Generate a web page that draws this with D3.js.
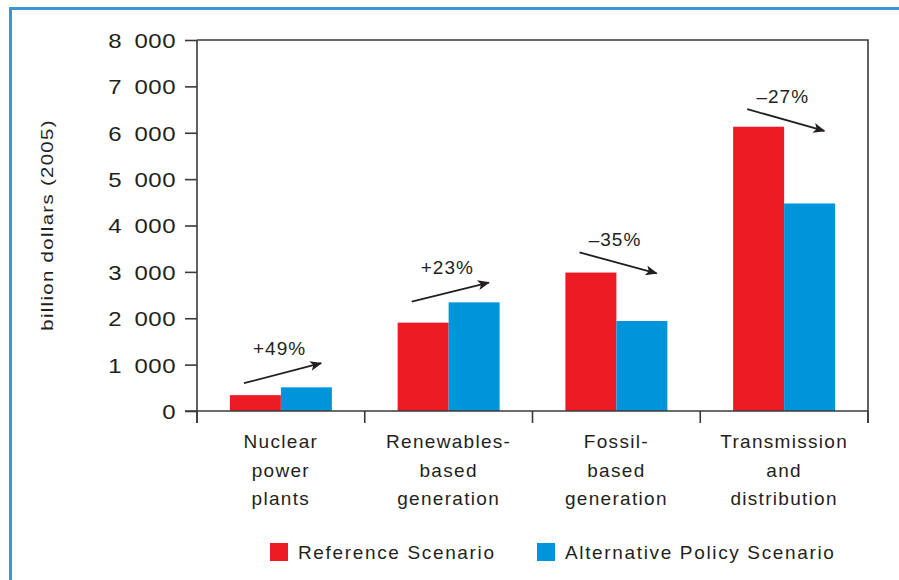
<!DOCTYPE html>
<html>
<head>
<meta charset="utf-8">
<script src="https://cdn.jsdelivr.net/npm/d3@7"></script>
<style>
  body { margin: 0; background: #fff; }
  svg { display: block; }
  text { font-family: "Liberation Sans", Arial, sans-serif; fill: #231f20; }
</style>
</head>
<body>
<svg id="chart" width="899" height="580"></svg>
<script>
// Investment categories (each entry is one wrapped line of the axis label)
const categories = ["Nuclear power plants", "Renewables-based generation", "Fossil-based generation", "Transmission and distribution"];
const categoryLines = [
  ["Nuclear", "power", "plants"],
  ["Renewables-", "based", "generation"],
  ["Fossil-", "based", "generation"],
  ["Transmission", "and", "distribution"]
];
const seriesNames = ["Reference Scenario", "Alternative Policy Scenario"];
const referenceValues = [342, 1905, 2985, 6130];
const alternativeValues = [510, 2343, 1940, 4475];

// Change annotations: arrow start/end heights and label height, in billion dollars
const changeLabels = ["+49%", "+23%", "\u201335%", "\u201327%"];
const arrowStart = [600, 2360, 3420, 6510];
const arrowEnd = [1030, 2770, 2970, 6040];
const changeLabelAt = [1360, 3110, 3700, 6790];

const yTicks = [0, 1000, 2000, 3000, 4000, 5000, 6000, 7000, 8000];
const yTickLabels = ["0", "1\u2002000", "2\u2002000", "3\u2002000", "4\u2002000", "5\u2002000", "6\u2002000", "7\u2002000", "8\u2002000"];
const yTitle = "billion dollars (2005)";

const seriesColors = ["#ed1c24", "#0094da"];
const axisColor = "#3a3a3a";

const svg = d3.select("#chart");

// Outer blue frame (top and left edges)
svg.append("path")
  .attr("d", "M10.5,580 V8.5 H899")
  .attr("fill", "none")
  .attr("stroke", "#3a97d7")
  .attr("stroke-width", 3);

const plot = { left: 197, right: 868, top: 40, bottom: 411 };

const x = d3.scaleBand().domain(categories).range([plot.left, plot.right]).padding(0);
const y = d3.scaleLinear().domain([0, 8000]).range([plot.bottom, plot.top]);
const bw = x.bandwidth();
const barW = 51;

// Bars
const rows = categories.map((c, i) => ({ c, i, vals: [referenceValues[i], alternativeValues[i]] }));
const groups = svg.append("g").selectAll("g").data(rows).join("g");
groups.selectAll("rect")
  .data(d => d.vals.map((v, s) => ({ c: d.c, v, s })))
  .join("rect")
  .attr("x", d => x(d.c) + bw / 2 - barW + d.s * barW)
  .attr("width", barW)
  .attr("y", d => y(d.v))
  .attr("height", d => y(0) - y(d.v))
  .attr("fill", d => seriesColors[d.s]);

// Frame: top line and right edge
svg.append("path")
  .attr("d", `M${plot.left},${plot.top} H${plot.right} V${plot.bottom + 12}`)
  .attr("fill", "none").attr("stroke", axisColor).attr("stroke-width", 1.6);

// Y axis
const yAxis = svg.append("g")
  .attr("transform", `translate(${plot.left},0)`)
  .call(d3.axisLeft(y).tickValues(yTicks).tickFormat((d, i) => yTickLabels[i]).tickSize(12).tickPadding(8));
yAxis.select(".domain").attr("stroke", axisColor).attr("stroke-width", 1.6).attr("d", `M0,${plot.top}V${plot.bottom + 12}`);
yAxis.selectAll(".tick line").attr("stroke", axisColor).attr("stroke-width", 1.6);
yAxis.selectAll(".tick text")
  .attr("font-family", "Liberation Sans, Arial, sans-serif")
  .attr("font-size", 20).attr("fill", "#231f20")
  .attr("x", 0)
  .attr("transform", "translate(-21,1) scale(1.2,1)")
  .style("letter-spacing", "0.4px");

// X axis line with ticks at category boundaries
const bounds = categories.map(c => x(c)).concat([plot.right]);
svg.append("line")
  .attr("x1", plot.left - 12).attr("x2", plot.right)
  .attr("y1", plot.bottom).attr("y2", plot.bottom)
  .attr("stroke", axisColor).attr("stroke-width", 1.6);
svg.append("g").selectAll("line").data(bounds).join("line")
  .attr("x1", d => d).attr("x2", d => d)
  .attr("y1", plot.bottom).attr("y2", plot.bottom + 12)
  .attr("stroke", axisColor).attr("stroke-width", 1.6);

// Category labels
svg.append("g").selectAll("text").data(categories).join("text")
  .attr("x", d => x(d) + bw / 2)
  .attr("y", 448)
  .attr("text-anchor", "middle")
  .attr("font-size", 19)
  .style("letter-spacing", "1.3px")
  .each(function (d, i) {
    d3.select(this).selectAll("tspan").data(categoryLines[i]).join("tspan")
      .attr("x", x(d) + bw / 2)
      .attr("dy", (t, j) => j === 0 ? 0 : 28.5)
      .text(t => t);
  });

// Y axis title, stretched along its reading direction
svg.append("text")
  .attr("transform", "translate(53,225) rotate(-90) scale(1.2,1)")
  .attr("text-anchor", "middle")
  .attr("font-size", 17)
  .style("letter-spacing", "1.1px")
  .text(yTitle);

// Change arrows
svg.append("defs").append("marker")
  .attr("id", "head").attr("viewBox", "0 0 12 10")
  .attr("refX", 11).attr("refY", 5)
  .attr("markerWidth", 12).attr("markerHeight", 10)
  .attr("markerUnits", "userSpaceOnUse")
  .attr("orient", "auto")
  .append("path").attr("d", "M0,0 L12,5 L0,10 L3,5 Z").attr("fill", "#231f20");

const ann = svg.append("g");
categories.forEach((c, i) => {
  const x0 = x(c) + bw * 0.28, x1 = x(c) + bw * 0.74;
  ann.append("line")
    .attr("x1", x0).attr("y1", y(arrowStart[i]))
    .attr("x2", x1).attr("y2", y(arrowEnd[i]))
    .attr("stroke", "#231f20").attr("stroke-width", 1.8)
    .attr("marker-end", "url(#head)");
  ann.append("text")
    .attr("x", (x0 + x1) / 2 - 3).attr("y", y(changeLabelAt[i]))
    .attr("dy", "0.36em")
    .attr("text-anchor", "middle")
    .attr("font-size", 19)
    .style("letter-spacing", "1px")
    .text(changeLabels[i]);
});

// Legend
const legendX = [270, 537];
const legend = svg.append("g").selectAll("g").data(seriesNames).join("g")
  .attr("transform", (d, i) => `translate(${legendX[i]},543)`);
legend.append("rect").attr("width", 18).attr("height", 18).attr("fill", (d, i) => seriesColors[i]);
legend.append("text")
  .attr("x", 28).attr("y", 16)
  .attr("font-size", 19)
  .style("letter-spacing", "1.65px")
  .text(d => d);
</script>
</body>
</html>
